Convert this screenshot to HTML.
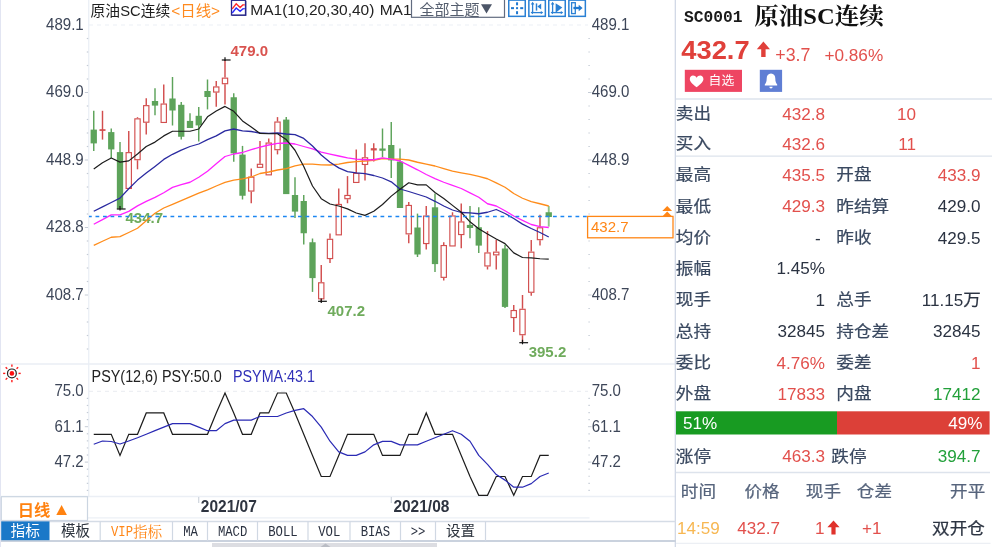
<!DOCTYPE html><html><head><meta charset="utf-8"><title>原油SC连续</title><style>html,body{margin:0;padding:0;background:#fff;overflow:hidden}svg{display:block}</style></head><body>
<svg width="992" height="547" viewBox="0 0 992 547">
<rect x="0" y="0" width="992" height="547" fill="#fff" stroke="none" stroke-width="1" />
<line x1="0.5" y1="0" x2="0.5" y2="547" stroke="#e2e5f2" stroke-width="1" />
<line x1="88.7" y1="0" x2="88.7" y2="497" stroke="#ecf0f6" stroke-width="1.4" />
<line x1="0" y1="364" x2="676" y2="364" stroke="#eaeef4" stroke-width="1.5" />
<line x1="0" y1="496.5" x2="676" y2="496.5" stroke="#ebeff5" stroke-width="1.3" />
<line x1="88" y1="517.9" x2="589.5" y2="517.9" stroke="#ecf0f6" stroke-width="1.2" />
<line x1="675.3" y1="0" x2="675.3" y2="547" stroke="#cdd5e4" stroke-width="1.2" />
<line x1="89" y1="25" x2="588" y2="25" stroke="#ebeff5" stroke-width="1" stroke-dasharray="4 4"/>
<line x1="89" y1="391.3" x2="588" y2="391.3" stroke="#e9ecf0" stroke-width="1" stroke-dasharray="4 4"/>
<line x1="86.8" y1="38.5" x2="88.2" y2="38.5" stroke="#c5ccd6" stroke-width="1.2" />
<line x1="588.4" y1="38.5" x2="589.8" y2="38.5" stroke="#c5ccd6" stroke-width="1.2" />
<line x1="86.8" y1="52.0" x2="88.2" y2="52.0" stroke="#c5ccd6" stroke-width="1.2" />
<line x1="588.4" y1="52.0" x2="589.8" y2="52.0" stroke="#c5ccd6" stroke-width="1.2" />
<line x1="86.8" y1="65.5" x2="88.2" y2="65.5" stroke="#c5ccd6" stroke-width="1.2" />
<line x1="588.4" y1="65.5" x2="589.8" y2="65.5" stroke="#c5ccd6" stroke-width="1.2" />
<line x1="86.8" y1="79.0" x2="88.2" y2="79.0" stroke="#c5ccd6" stroke-width="1.2" />
<line x1="588.4" y1="79.0" x2="589.8" y2="79.0" stroke="#c5ccd6" stroke-width="1.2" />
<line x1="84.8" y1="92.5" x2="88" y2="92.5" stroke="#c5ccd6" stroke-width="1" />
<line x1="588" y1="92.5" x2="591.5" y2="92.5" stroke="#c5ccd6" stroke-width="1" />
<line x1="86.8" y1="106.0" x2="88.2" y2="106.0" stroke="#c5ccd6" stroke-width="1.2" />
<line x1="588.4" y1="106.0" x2="589.8" y2="106.0" stroke="#c5ccd6" stroke-width="1.2" />
<line x1="86.8" y1="119.5" x2="88.2" y2="119.5" stroke="#c5ccd6" stroke-width="1.2" />
<line x1="588.4" y1="119.5" x2="589.8" y2="119.5" stroke="#c5ccd6" stroke-width="1.2" />
<line x1="86.8" y1="133.0" x2="88.2" y2="133.0" stroke="#c5ccd6" stroke-width="1.2" />
<line x1="588.4" y1="133.0" x2="589.8" y2="133.0" stroke="#c5ccd6" stroke-width="1.2" />
<line x1="86.8" y1="146.5" x2="88.2" y2="146.5" stroke="#c5ccd6" stroke-width="1.2" />
<line x1="588.4" y1="146.5" x2="589.8" y2="146.5" stroke="#c5ccd6" stroke-width="1.2" />
<line x1="84.8" y1="160.0" x2="88" y2="160.0" stroke="#c5ccd6" stroke-width="1" />
<line x1="588" y1="160.0" x2="591.5" y2="160.0" stroke="#c5ccd6" stroke-width="1" />
<line x1="86.8" y1="173.5" x2="88.2" y2="173.5" stroke="#c5ccd6" stroke-width="1.2" />
<line x1="588.4" y1="173.5" x2="589.8" y2="173.5" stroke="#c5ccd6" stroke-width="1.2" />
<line x1="86.8" y1="187.0" x2="88.2" y2="187.0" stroke="#c5ccd6" stroke-width="1.2" />
<line x1="588.4" y1="187.0" x2="589.8" y2="187.0" stroke="#c5ccd6" stroke-width="1.2" />
<line x1="86.8" y1="200.5" x2="88.2" y2="200.5" stroke="#c5ccd6" stroke-width="1.2" />
<line x1="588.4" y1="200.5" x2="589.8" y2="200.5" stroke="#c5ccd6" stroke-width="1.2" />
<line x1="86.8" y1="214.0" x2="88.2" y2="214.0" stroke="#c5ccd6" stroke-width="1.2" />
<line x1="588.4" y1="214.0" x2="589.8" y2="214.0" stroke="#c5ccd6" stroke-width="1.2" />
<line x1="84.8" y1="227.5" x2="88" y2="227.5" stroke="#c5ccd6" stroke-width="1" />
<line x1="588" y1="227.5" x2="591.5" y2="227.5" stroke="#c5ccd6" stroke-width="1" />
<line x1="86.8" y1="241.0" x2="88.2" y2="241.0" stroke="#c5ccd6" stroke-width="1.2" />
<line x1="588.4" y1="241.0" x2="589.8" y2="241.0" stroke="#c5ccd6" stroke-width="1.2" />
<line x1="86.8" y1="254.5" x2="88.2" y2="254.5" stroke="#c5ccd6" stroke-width="1.2" />
<line x1="588.4" y1="254.5" x2="589.8" y2="254.5" stroke="#c5ccd6" stroke-width="1.2" />
<line x1="86.8" y1="268.0" x2="88.2" y2="268.0" stroke="#c5ccd6" stroke-width="1.2" />
<line x1="588.4" y1="268.0" x2="589.8" y2="268.0" stroke="#c5ccd6" stroke-width="1.2" />
<line x1="86.8" y1="281.5" x2="88.2" y2="281.5" stroke="#c5ccd6" stroke-width="1.2" />
<line x1="588.4" y1="281.5" x2="589.8" y2="281.5" stroke="#c5ccd6" stroke-width="1.2" />
<line x1="84.8" y1="295.0" x2="88" y2="295.0" stroke="#c5ccd6" stroke-width="1" />
<line x1="588" y1="295.0" x2="591.5" y2="295.0" stroke="#c5ccd6" stroke-width="1" />
<line x1="86.8" y1="308.5" x2="88.2" y2="308.5" stroke="#c5ccd6" stroke-width="1.2" />
<line x1="588.4" y1="308.5" x2="589.8" y2="308.5" stroke="#c5ccd6" stroke-width="1.2" />
<line x1="86.8" y1="322.0" x2="88.2" y2="322.0" stroke="#c5ccd6" stroke-width="1.2" />
<line x1="588.4" y1="322.0" x2="589.8" y2="322.0" stroke="#c5ccd6" stroke-width="1.2" />
<line x1="86.8" y1="335.5" x2="88.2" y2="335.5" stroke="#c5ccd6" stroke-width="1.2" />
<line x1="588.4" y1="335.5" x2="589.8" y2="335.5" stroke="#c5ccd6" stroke-width="1.2" />
<line x1="86.8" y1="349.0" x2="88.2" y2="349.0" stroke="#c5ccd6" stroke-width="1.2" />
<line x1="588.4" y1="349.0" x2="589.8" y2="349.0" stroke="#c5ccd6" stroke-width="1.2" />
<line x1="86.8" y1="398.38" x2="88.2" y2="398.38" stroke="#c5ccd6" stroke-width="1.2" />
<line x1="588.4" y1="398.38" x2="589.8" y2="398.38" stroke="#c5ccd6" stroke-width="1.2" />
<line x1="86.8" y1="405.46" x2="88.2" y2="405.46" stroke="#c5ccd6" stroke-width="1.2" />
<line x1="588.4" y1="405.46" x2="589.8" y2="405.46" stroke="#c5ccd6" stroke-width="1.2" />
<line x1="86.8" y1="412.53999999999996" x2="88.2" y2="412.53999999999996" stroke="#c5ccd6" stroke-width="1.2" />
<line x1="588.4" y1="412.53999999999996" x2="589.8" y2="412.53999999999996" stroke="#c5ccd6" stroke-width="1.2" />
<line x1="86.8" y1="419.61999999999995" x2="88.2" y2="419.61999999999995" stroke="#c5ccd6" stroke-width="1.2" />
<line x1="588.4" y1="419.61999999999995" x2="589.8" y2="419.61999999999995" stroke="#c5ccd6" stroke-width="1.2" />
<line x1="84.8" y1="426.69999999999993" x2="88" y2="426.69999999999993" stroke="#c5ccd6" stroke-width="1" />
<line x1="588" y1="426.69999999999993" x2="591.5" y2="426.69999999999993" stroke="#c5ccd6" stroke-width="1" />
<line x1="86.8" y1="433.7799999999999" x2="88.2" y2="433.7799999999999" stroke="#c5ccd6" stroke-width="1.2" />
<line x1="588.4" y1="433.7799999999999" x2="589.8" y2="433.7799999999999" stroke="#c5ccd6" stroke-width="1.2" />
<line x1="86.8" y1="440.8599999999999" x2="88.2" y2="440.8599999999999" stroke="#c5ccd6" stroke-width="1.2" />
<line x1="588.4" y1="440.8599999999999" x2="589.8" y2="440.8599999999999" stroke="#c5ccd6" stroke-width="1.2" />
<line x1="86.8" y1="447.9399999999999" x2="88.2" y2="447.9399999999999" stroke="#c5ccd6" stroke-width="1.2" />
<line x1="588.4" y1="447.9399999999999" x2="589.8" y2="447.9399999999999" stroke="#c5ccd6" stroke-width="1.2" />
<line x1="86.8" y1="455.01999999999987" x2="88.2" y2="455.01999999999987" stroke="#c5ccd6" stroke-width="1.2" />
<line x1="588.4" y1="455.01999999999987" x2="589.8" y2="455.01999999999987" stroke="#c5ccd6" stroke-width="1.2" />
<line x1="84.8" y1="462.09999999999985" x2="88" y2="462.09999999999985" stroke="#c5ccd6" stroke-width="1" />
<line x1="588" y1="462.09999999999985" x2="591.5" y2="462.09999999999985" stroke="#c5ccd6" stroke-width="1" />
<line x1="86.8" y1="469.17999999999984" x2="88.2" y2="469.17999999999984" stroke="#c5ccd6" stroke-width="1.2" />
<line x1="588.4" y1="469.17999999999984" x2="589.8" y2="469.17999999999984" stroke="#c5ccd6" stroke-width="1.2" />
<line x1="86.8" y1="476.2599999999998" x2="88.2" y2="476.2599999999998" stroke="#c5ccd6" stroke-width="1.2" />
<line x1="588.4" y1="476.2599999999998" x2="589.8" y2="476.2599999999998" stroke="#c5ccd6" stroke-width="1.2" />
<line x1="86.8" y1="483.3399999999998" x2="88.2" y2="483.3399999999998" stroke="#c5ccd6" stroke-width="1.2" />
<line x1="588.4" y1="483.3399999999998" x2="589.8" y2="483.3399999999998" stroke="#c5ccd6" stroke-width="1.2" />
<line x1="86.8" y1="490.4199999999998" x2="88.2" y2="490.4199999999998" stroke="#c5ccd6" stroke-width="1.2" />
<line x1="588.4" y1="490.4199999999998" x2="589.8" y2="490.4199999999998" stroke="#c5ccd6" stroke-width="1.2" />
<text x="83.7" y="29.52" font-size="15.7" fill="#3d4658" font-weight="normal" text-anchor="end" font-family='"Liberation Sans","Noto Sans CJK SC",sans-serif'  textLength="37.7" lengthAdjust="spacingAndGlyphs">489.1</text>
<text x="591.7" y="29.52" font-size="15.7" fill="#3d4658" font-weight="normal" text-anchor="start" font-family='"Liberation Sans","Noto Sans CJK SC",sans-serif'  textLength="37.7" lengthAdjust="spacingAndGlyphs">489.1</text>
<text x="83.7" y="97.12" font-size="15.7" fill="#3d4658" font-weight="normal" text-anchor="end" font-family='"Liberation Sans","Noto Sans CJK SC",sans-serif'  textLength="37.7" lengthAdjust="spacingAndGlyphs">469.0</text>
<text x="591.7" y="97.12" font-size="15.7" fill="#3d4658" font-weight="normal" text-anchor="start" font-family='"Liberation Sans","Noto Sans CJK SC",sans-serif'  textLength="37.7" lengthAdjust="spacingAndGlyphs">469.0</text>
<text x="83.7" y="164.62" font-size="15.7" fill="#3d4658" font-weight="normal" text-anchor="end" font-family='"Liberation Sans","Noto Sans CJK SC",sans-serif'  textLength="37.7" lengthAdjust="spacingAndGlyphs">448.9</text>
<text x="591.7" y="164.62" font-size="15.7" fill="#3d4658" font-weight="normal" text-anchor="start" font-family='"Liberation Sans","Noto Sans CJK SC",sans-serif'  textLength="37.7" lengthAdjust="spacingAndGlyphs">448.9</text>
<text x="83.7" y="232.12" font-size="15.7" fill="#3d4658" font-weight="normal" text-anchor="end" font-family='"Liberation Sans","Noto Sans CJK SC",sans-serif'  textLength="37.7" lengthAdjust="spacingAndGlyphs">428.8</text>
<text x="83.7" y="299.62" font-size="15.7" fill="#3d4658" font-weight="normal" text-anchor="end" font-family='"Liberation Sans","Noto Sans CJK SC",sans-serif'  textLength="37.7" lengthAdjust="spacingAndGlyphs">408.7</text>
<text x="591.7" y="299.62" font-size="15.7" fill="#3d4658" font-weight="normal" text-anchor="start" font-family='"Liberation Sans","Noto Sans CJK SC",sans-serif'  textLength="37.7" lengthAdjust="spacingAndGlyphs">408.7</text>
<text x="83.7" y="396.32" font-size="15.7" fill="#3d4658" font-weight="normal" text-anchor="end" font-family='"Liberation Sans","Noto Sans CJK SC",sans-serif'  textLength="29.3" lengthAdjust="spacingAndGlyphs">75.0</text>
<text x="591.7" y="396.32" font-size="15.7" fill="#3d4658" font-weight="normal" text-anchor="start" font-family='"Liberation Sans","Noto Sans CJK SC",sans-serif'  textLength="29.3" lengthAdjust="spacingAndGlyphs">75.0</text>
<text x="83.7" y="431.92" font-size="15.7" fill="#3d4658" font-weight="normal" text-anchor="end" font-family='"Liberation Sans","Noto Sans CJK SC",sans-serif'  textLength="29.3" lengthAdjust="spacingAndGlyphs">61.1</text>
<text x="591.7" y="431.92" font-size="15.7" fill="#3d4658" font-weight="normal" text-anchor="start" font-family='"Liberation Sans","Noto Sans CJK SC",sans-serif'  textLength="29.3" lengthAdjust="spacingAndGlyphs">61.1</text>
<text x="83.7" y="467.32" font-size="15.7" fill="#3d4658" font-weight="normal" text-anchor="end" font-family='"Liberation Sans","Noto Sans CJK SC",sans-serif'  textLength="29.3" lengthAdjust="spacingAndGlyphs">47.2</text>
<text x="591.7" y="467.32" font-size="15.7" fill="#3d4658" font-weight="normal" text-anchor="start" font-family='"Liberation Sans","Noto Sans CJK SC",sans-serif'  textLength="29.3" lengthAdjust="spacingAndGlyphs">47.2</text>
<line x1="93.75" y1="110.8" x2="93.75" y2="150.9" stroke="#5da35a" stroke-width="1.45" />
<rect x="90.6" y="129.6" width="6.3" height="13.800000000000011" fill="#5da35a" stroke="none" stroke-width="1" />
<line x1="102.5" y1="110.8" x2="102.5" y2="139.6" stroke="#d24e4e" stroke-width="1.45" />
<rect x="99.5" y="129.2" width="6" height="1.6999999999999886" fill="#d24e4e" stroke="none" stroke-width="1" />
<line x1="111.25" y1="128.4" x2="111.25" y2="158" stroke="#5da35a" stroke-width="1.45" />
<rect x="108.1" y="132.1" width="6.3" height="17.30000000000001" fill="#5da35a" stroke="none" stroke-width="1" />
<line x1="120.0" y1="142.1" x2="120.0" y2="208.75" stroke="#5da35a" stroke-width="1.45" />
<rect x="116.85" y="152.1" width="6.3" height="56.650000000000006" fill="#5da35a" stroke="none" stroke-width="1" />
<line x1="128.75" y1="130.9" x2="128.75" y2="152.1" stroke="#d24e4e" stroke-width="1.45" />
<line x1="128.75" y1="189" x2="128.75" y2="189" stroke="#d24e4e" stroke-width="1.45" />
<rect x="126.1" y="152.65" width="5.3" height="35.800000000000004" fill="#fff" stroke="#d24e4e" stroke-width="1.15" />
<line x1="137.5" y1="117.2" x2="137.5" y2="118.3" stroke="#d24e4e" stroke-width="1.45" />
<line x1="137.5" y1="160.25" x2="137.5" y2="169.3" stroke="#d24e4e" stroke-width="1.45" />
<rect x="134.85" y="118.85" width="5.3" height="40.85" fill="#fff" stroke="#d24e4e" stroke-width="1.15" />
<line x1="146.25" y1="98.25" x2="146.25" y2="105.1" stroke="#d24e4e" stroke-width="1.45" />
<line x1="146.25" y1="122.75" x2="146.25" y2="134.6" stroke="#d24e4e" stroke-width="1.45" />
<rect x="143.6" y="105.64999999999999" width="5.3" height="16.550000000000004" fill="#fff" stroke="#d24e4e" stroke-width="1.15" />
<line x1="155.0" y1="88.25" x2="155.0" y2="115.3" stroke="#5da35a" stroke-width="1.45" />
<rect x="151.85" y="101" width="6.3" height="4.599999999999994" fill="#5da35a" stroke="none" stroke-width="1" />
<line x1="163.75" y1="84.5" x2="163.75" y2="103.5" stroke="#d24e4e" stroke-width="1.45" />
<line x1="163.75" y1="123" x2="163.75" y2="123" stroke="#d24e4e" stroke-width="1.45" />
<rect x="161.1" y="104.05" width="5.3" height="18.4" fill="#fff" stroke="#d24e4e" stroke-width="1.15" />
<line x1="172.5" y1="77" x2="172.5" y2="125.5" stroke="#5da35a" stroke-width="1.45" />
<rect x="169.35" y="98.5" width="6.3" height="12.0" fill="#5da35a" stroke="none" stroke-width="1" />
<line x1="181.25" y1="102" x2="181.25" y2="139.6" stroke="#5da35a" stroke-width="1.45" />
<rect x="178.1" y="104.8" width="6.3" height="31.950000000000003" fill="#5da35a" stroke="none" stroke-width="1" />
<line x1="190.0" y1="113.3" x2="190.0" y2="128" stroke="#5da35a" stroke-width="1.45" />
<rect x="186.85" y="120.9" width="6.3" height="7.099999999999994" fill="#5da35a" stroke="none" stroke-width="1" />
<line x1="198.75" y1="107" x2="198.75" y2="141.5" stroke="#5da35a" stroke-width="1.45" />
<rect x="195.6" y="115.8" width="6.3" height="9.600000000000009" fill="#5da35a" stroke="none" stroke-width="1" />
<line x1="207.5" y1="79.5" x2="207.5" y2="109.4" stroke="#5da35a" stroke-width="1.45" />
<rect x="204.35" y="91" width="6.3" height="6" fill="#5da35a" stroke="none" stroke-width="1" />
<line x1="216.25" y1="81" x2="216.25" y2="86.4" stroke="#d24e4e" stroke-width="1.45" />
<line x1="216.25" y1="92.6" x2="216.25" y2="106.75" stroke="#d24e4e" stroke-width="1.45" />
<rect x="213.6" y="86.95" width="5.3" height="5.099999999999989" fill="#fff" stroke="#d24e4e" stroke-width="1.15" />
<line x1="225.0" y1="60.1" x2="225.0" y2="77.6" stroke="#d24e4e" stroke-width="1.45" />
<line x1="225.0" y1="84.25" x2="225.0" y2="104.5" stroke="#d24e4e" stroke-width="1.45" />
<rect x="222.35" y="78.14999999999999" width="5.3" height="5.550000000000006" fill="#fff" stroke="#d24e4e" stroke-width="1.15" />
<line x1="233.75" y1="93.25" x2="233.75" y2="161.7" stroke="#5da35a" stroke-width="1.45" />
<rect x="230.6" y="97.25" width="6.3" height="56.150000000000006" fill="#5da35a" stroke="none" stroke-width="1" />
<line x1="242.5" y1="145.9" x2="242.5" y2="199.5" stroke="#5da35a" stroke-width="1.45" />
<rect x="239.35" y="154.6" width="6.3" height="41.150000000000006" fill="#5da35a" stroke="none" stroke-width="1" />
<line x1="251.25" y1="168.4" x2="251.25" y2="176.6" stroke="#d24e4e" stroke-width="1.45" />
<line x1="251.25" y1="191.6" x2="251.25" y2="203.25" stroke="#d24e4e" stroke-width="1.45" />
<rect x="248.6" y="177.15" width="5.3" height="13.9" fill="#fff" stroke="#d24e4e" stroke-width="1.15" />
<line x1="260.0" y1="140.9" x2="260.0" y2="163.75" stroke="#d24e4e" stroke-width="1.45" />
<line x1="260.0" y1="167.9" x2="260.0" y2="167.9" stroke="#d24e4e" stroke-width="1.45" />
<rect x="257.35" y="164.3" width="5.3" height="3.0500000000000056" fill="#fff" stroke="#d24e4e" stroke-width="1.15" />
<line x1="268.75" y1="138.4" x2="268.75" y2="142.5" stroke="#d24e4e" stroke-width="1.45" />
<line x1="268.75" y1="175.4" x2="268.75" y2="175.4" stroke="#d24e4e" stroke-width="1.45" />
<rect x="266.1" y="143.05" width="5.3" height="31.800000000000004" fill="#fff" stroke="#d24e4e" stroke-width="1.15" />
<line x1="277.5" y1="117.1" x2="277.5" y2="121.5" stroke="#d24e4e" stroke-width="1.45" />
<line x1="277.5" y1="150.25" x2="277.5" y2="154.4" stroke="#d24e4e" stroke-width="1.45" />
<rect x="274.85" y="122.05" width="5.3" height="27.65" fill="#fff" stroke="#d24e4e" stroke-width="1.15" />
<line x1="286.25" y1="117.1" x2="286.25" y2="194.1" stroke="#5da35a" stroke-width="1.45" />
<rect x="283.1" y="119.6" width="6.3" height="74.5" fill="#5da35a" stroke="none" stroke-width="1" />
<line x1="295.0" y1="177.25" x2="295.0" y2="217.9" stroke="#5da35a" stroke-width="1.45" />
<rect x="291.85" y="195" width="6.3" height="16.599999999999994" fill="#5da35a" stroke="none" stroke-width="1" />
<line x1="303.75" y1="195" x2="303.75" y2="244.5" stroke="#5da35a" stroke-width="1.45" />
<rect x="300.6" y="201" width="6.3" height="32.25" fill="#5da35a" stroke="none" stroke-width="1" />
<line x1="312.5" y1="238.5" x2="312.5" y2="291.9" stroke="#5da35a" stroke-width="1.45" />
<rect x="309.35" y="242.25" width="6.3" height="35.85000000000002" fill="#5da35a" stroke="none" stroke-width="1" />
<line x1="321.25" y1="265" x2="321.25" y2="282.25" stroke="#d24e4e" stroke-width="1.45" />
<line x1="321.25" y1="299.4" x2="321.25" y2="301.25" stroke="#d24e4e" stroke-width="1.45" />
<rect x="318.6" y="282.8" width="5.3" height="16.049999999999976" fill="#fff" stroke="#d24e4e" stroke-width="1.15" />
<line x1="330.0" y1="233.5" x2="330.0" y2="238.75" stroke="#d24e4e" stroke-width="1.45" />
<line x1="330.0" y1="259.1" x2="330.0" y2="263" stroke="#d24e4e" stroke-width="1.45" />
<rect x="327.35" y="239.3" width="5.3" height="19.25000000000002" fill="#fff" stroke="#d24e4e" stroke-width="1.15" />
<line x1="338.75" y1="188.6" x2="338.75" y2="203.9" stroke="#d24e4e" stroke-width="1.45" />
<line x1="338.75" y1="235.4" x2="338.75" y2="235.4" stroke="#d24e4e" stroke-width="1.45" />
<rect x="336.1" y="204.45000000000002" width="5.3" height="30.4" fill="#fff" stroke="#d24e4e" stroke-width="1.15" />
<line x1="347.5" y1="176.1" x2="347.5" y2="194.9" stroke="#d24e4e" stroke-width="1.45" />
<line x1="347.5" y1="199.25" x2="347.5" y2="203.25" stroke="#d24e4e" stroke-width="1.45" />
<rect x="344.85" y="195.45000000000002" width="5.3" height="3.2499999999999942" fill="#fff" stroke="#d24e4e" stroke-width="1.15" />
<line x1="356.25" y1="149.5" x2="356.25" y2="172.9" stroke="#d24e4e" stroke-width="1.45" />
<line x1="356.25" y1="183" x2="356.25" y2="183" stroke="#d24e4e" stroke-width="1.45" />
<rect x="353.6" y="173.45000000000002" width="5.3" height="8.999999999999995" fill="#fff" stroke="#d24e4e" stroke-width="1.15" />
<line x1="365.0" y1="143.25" x2="365.0" y2="157.25" stroke="#d24e4e" stroke-width="1.45" />
<line x1="365.0" y1="165" x2="365.0" y2="180.5" stroke="#d24e4e" stroke-width="1.45" />
<rect x="362.35" y="157.8" width="5.3" height="6.65" fill="#fff" stroke="#d24e4e" stroke-width="1.15" />
<line x1="373.75" y1="143.25" x2="373.75" y2="161.6" stroke="#d24e4e" stroke-width="1.45" />
<rect x="370.75" y="148.2" width="6" height="2.25" fill="#d24e4e" stroke="none" stroke-width="1" />
<line x1="382.5" y1="128.5" x2="382.5" y2="157" stroke="#5da35a" stroke-width="1.45" />
<rect x="379.35" y="148.5" width="6.3" height="2.25" fill="#5da35a" stroke="none" stroke-width="1" />
<line x1="391.25" y1="122" x2="391.25" y2="178" stroke="#5da35a" stroke-width="1.45" />
<rect x="388.1" y="145" width="6.3" height="15.400000000000006" fill="#5da35a" stroke="none" stroke-width="1" />
<line x1="400.0" y1="148.5" x2="400.0" y2="208" stroke="#5da35a" stroke-width="1.45" />
<rect x="396.85" y="161.6" width="6.3" height="46.400000000000006" fill="#5da35a" stroke="none" stroke-width="1" />
<line x1="408.75" y1="202" x2="408.75" y2="204.9" stroke="#d24e4e" stroke-width="1.45" />
<line x1="408.75" y1="234.4" x2="408.75" y2="243.25" stroke="#d24e4e" stroke-width="1.45" />
<rect x="406.1" y="205.45000000000002" width="5.3" height="28.4" fill="#fff" stroke="#d24e4e" stroke-width="1.15" />
<line x1="417.5" y1="213.6" x2="417.5" y2="257" stroke="#5da35a" stroke-width="1.45" />
<rect x="414.35" y="227.5" width="6.3" height="27.0" fill="#5da35a" stroke="none" stroke-width="1" />
<line x1="426.25" y1="206.1" x2="426.25" y2="215.5" stroke="#d24e4e" stroke-width="1.45" />
<line x1="426.25" y1="244.1" x2="426.25" y2="249.5" stroke="#d24e4e" stroke-width="1.45" />
<rect x="423.6" y="216.05" width="5.3" height="27.499999999999993" fill="#fff" stroke="#d24e4e" stroke-width="1.15" />
<line x1="435.0" y1="193.6" x2="435.0" y2="272" stroke="#5da35a" stroke-width="1.45" />
<rect x="431.85" y="207.3" width="6.3" height="56.80000000000001" fill="#5da35a" stroke="none" stroke-width="1" />
<line x1="443.75" y1="242.25" x2="443.75" y2="245" stroke="#d24e4e" stroke-width="1.45" />
<line x1="443.75" y1="277.9" x2="443.75" y2="280.5" stroke="#d24e4e" stroke-width="1.45" />
<rect x="441.1" y="245.55" width="5.3" height="31.799999999999976" fill="#fff" stroke="#d24e4e" stroke-width="1.15" />
<line x1="452.5" y1="212.25" x2="452.5" y2="215.4" stroke="#d24e4e" stroke-width="1.45" />
<line x1="452.5" y1="246.5" x2="452.5" y2="246.5" stroke="#d24e4e" stroke-width="1.45" />
<rect x="449.85" y="215.95000000000002" width="5.3" height="29.999999999999993" fill="#fff" stroke="#d24e4e" stroke-width="1.15" />
<line x1="461.25" y1="203.5" x2="461.25" y2="221.4" stroke="#d24e4e" stroke-width="1.45" />
<line x1="461.25" y1="235.1" x2="461.25" y2="248.25" stroke="#d24e4e" stroke-width="1.45" />
<rect x="458.6" y="221.95000000000002" width="5.3" height="12.599999999999989" fill="#fff" stroke="#d24e4e" stroke-width="1.15" />
<line x1="470.0" y1="206" x2="470.0" y2="238.2" stroke="#5da35a" stroke-width="1.45" />
<rect x="466.85" y="224.9" width="6.3" height="3.0999999999999943" fill="#5da35a" stroke="none" stroke-width="1" />
<line x1="478.75" y1="207.25" x2="478.75" y2="253.1" stroke="#5da35a" stroke-width="1.45" />
<rect x="475.6" y="227.25" width="6.3" height="18.349999999999994" fill="#5da35a" stroke="none" stroke-width="1" />
<line x1="487.5" y1="231.1" x2="487.5" y2="252.4" stroke="#d24e4e" stroke-width="1.45" />
<line x1="487.5" y1="266.5" x2="487.5" y2="269.5" stroke="#d24e4e" stroke-width="1.45" />
<rect x="484.85" y="252.95000000000002" width="5.3" height="12.999999999999995" fill="#fff" stroke="#d24e4e" stroke-width="1.15" />
<line x1="496.25" y1="239.75" x2="496.25" y2="251.6" stroke="#d24e4e" stroke-width="1.45" />
<line x1="496.25" y1="255.4" x2="496.25" y2="269.5" stroke="#d24e4e" stroke-width="1.45" />
<rect x="493.6" y="252.15" width="5.3" height="2.7000000000000113" fill="#fff" stroke="#d24e4e" stroke-width="1.15" />
<line x1="505.0" y1="244.75" x2="505.0" y2="308.1" stroke="#5da35a" stroke-width="1.45" />
<rect x="501.85" y="248.5" width="6.3" height="58.39999999999998" fill="#5da35a" stroke="none" stroke-width="1" />
<line x1="513.75" y1="305" x2="513.75" y2="310" stroke="#d24e4e" stroke-width="1.45" />
<line x1="513.75" y1="318.1" x2="513.75" y2="331.9" stroke="#d24e4e" stroke-width="1.45" />
<rect x="511.1" y="310.55" width="5.3" height="7.000000000000023" fill="#fff" stroke="#d24e4e" stroke-width="1.15" />
<line x1="522.5" y1="295" x2="522.5" y2="308.75" stroke="#d24e4e" stroke-width="1.45" />
<line x1="522.5" y1="335.25" x2="522.5" y2="342" stroke="#d24e4e" stroke-width="1.45" />
<rect x="519.85" y="309.3" width="5.3" height="25.4" fill="#fff" stroke="#d24e4e" stroke-width="1.15" />
<line x1="531.25" y1="240" x2="531.25" y2="251.6" stroke="#d24e4e" stroke-width="1.45" />
<line x1="531.25" y1="292.8" x2="531.25" y2="295.7" stroke="#d24e4e" stroke-width="1.45" />
<rect x="528.6" y="252.15" width="5.3" height="40.100000000000016" fill="#fff" stroke="#d24e4e" stroke-width="1.15" />
<line x1="540.0" y1="214.75" x2="540.0" y2="227.25" stroke="#d24e4e" stroke-width="1.45" />
<line x1="540.0" y1="240.2" x2="540.0" y2="245.4" stroke="#d24e4e" stroke-width="1.45" />
<rect x="537.35" y="227.8" width="5.3" height="11.849999999999989" fill="#fff" stroke="#d24e4e" stroke-width="1.15" />
<line x1="548.75" y1="206" x2="548.75" y2="226.6" stroke="#8fc48a" stroke-width="1.9" />
<rect x="545.6" y="212.25" width="6.3" height="4.75" fill="#5da35a" stroke="none" stroke-width="1" />
<text x="230.5" y="56.37" font-size="15" fill="#d9534f" font-weight="bold" text-anchor="start" font-family='"Liberation Sans","Noto Sans CJK SC",sans-serif' >479.0</text>
<text x="125.5" y="223.37" font-size="15" fill="#6fab5c" font-weight="bold" text-anchor="start" font-family='"Liberation Sans","Noto Sans CJK SC",sans-serif' >434.7</text>
<text x="327.5" y="315.87" font-size="15" fill="#6fab5c" font-weight="bold" text-anchor="start" font-family='"Liberation Sans","Noto Sans CJK SC",sans-serif' >407.2</text>
<text x="528.7" y="357.37" font-size="15" fill="#6fab5c" font-weight="bold" text-anchor="start" font-family='"Liberation Sans","Noto Sans CJK SC",sans-serif' >395.2</text>
<polyline points="93.75,245.40 102.50,241.25 111.25,237.25 120.00,236.60 128.75,232.50 137.50,228.25 146.25,220.70 155.00,213.30 163.75,208.00 172.50,204.30 181.25,200.60 190.00,196.80 198.75,193.20 207.50,189.80 216.25,186.00 225.00,182.40 233.75,180.10 242.50,178.90 251.25,177.00 260.00,173.50 268.75,172.00 277.50,170.00 286.25,168.60 295.00,165.80 303.75,164.20 312.50,164.20 321.25,164.90 330.00,165.00 338.75,164.10 347.50,162.50 356.25,161.60 365.00,161.00 373.75,160.40 382.50,158.50 391.25,159.10 400.00,159.10 408.75,160.00 417.50,162.25 426.25,164.10 435.00,166.00 443.75,168.60 452.50,171.10 461.25,172.80 470.00,174.40 478.75,176.40 487.50,178.75 496.25,182.90 505.00,187.25 513.75,193.50 522.50,198.25 531.25,201.60 540.00,203.75 548.75,206.00" fill="none" stroke="#ff8c1a" stroke-width="1.3" stroke-linejoin="round"/>
<polyline points="93.75,224.30 102.50,219.60 111.25,214.90 120.00,214.90 128.75,211.40 137.50,205.90 146.25,201.40 155.00,197.40 163.75,192.70 172.50,187.40 181.25,184.60 190.00,182.25 198.75,177.30 207.50,171.20 216.25,163.70 225.00,156.50 233.75,154.00 242.50,152.50 251.25,149.60 260.00,147.10 268.75,145.00 277.50,143.40 286.25,143.00 295.00,144.00 303.75,146.50 312.50,148.80 321.25,152.20 330.00,154.10 338.75,156.00 347.50,157.90 356.25,159.10 365.00,159.75 373.75,159.75 382.50,157.90 391.25,159.10 400.00,161.00 408.75,165.40 417.50,169.80 426.25,174.50 435.00,178.60 443.75,182.25 452.50,185.40 461.25,188.50 470.00,192.90 478.75,197.25 487.50,203.75 496.25,206.00 505.00,210.75 513.75,216.00 522.50,220.40 531.25,224.50 540.00,226.60 548.75,227.50" fill="none" stroke="#ff22ff" stroke-width="1.3" stroke-linejoin="round"/>
<polyline points="93.75,211.25 102.50,206.90 111.25,202.50 120.00,198.10 128.75,188.70 137.50,180.10 146.25,173.10 155.00,166.40 163.75,159.40 172.50,154.30 181.25,150.10 190.00,146.50 198.75,144.00 207.50,139.70 216.25,135.90 225.00,130.90 233.75,129.00 242.50,130.90 251.25,131.50 260.00,133.00 268.75,133.40 277.50,133.00 286.25,134.00 295.00,134.60 303.75,138.40 312.50,146.00 321.25,155.00 330.00,162.25 338.75,167.90 347.50,171.70 356.25,172.90 365.00,173.70 373.75,175.50 382.50,178.00 391.25,181.80 400.00,189.00 408.75,191.50 417.50,194.25 426.25,197.00 435.00,201.30 443.75,206.00 452.50,210.00 461.25,212.50 470.00,212.90 478.75,213.75 487.50,212.25 496.25,209.50 505.00,213.50 513.75,218.50 522.50,224.10 531.25,228.50 540.00,232.50 548.75,237.00" fill="none" stroke="#2a2aa0" stroke-width="1.3" stroke-linejoin="round"/>
<polyline points="93.75,169.00 102.50,162.75 111.25,158.00 120.00,162.10 128.75,160.90 137.50,154.00 146.25,146.50 155.00,142.10 163.75,135.90 172.50,131.25 181.25,131.25 190.00,131.25 198.75,129.00 207.50,116.80 216.25,111.00 225.00,106.40 233.75,111.30 242.50,120.90 251.25,127.10 260.00,133.40 268.75,133.75 277.50,133.75 286.25,139.60 295.00,150.25 303.75,166.50 312.50,186.00 321.25,198.70 330.00,204.00 338.75,206.00 347.50,208.90 356.25,213.00 365.00,215.40 373.75,211.30 382.50,204.50 391.25,196.10 400.00,189.25 408.75,182.75 417.50,184.90 426.25,184.90 435.00,192.50 443.75,198.50 452.50,205.40 461.25,212.25 470.00,221.80 478.75,228.80 487.50,234.00 496.25,239.00 505.00,243.60 513.75,252.90 522.50,257.50 531.25,257.90 540.00,258.75 548.75,259.10" fill="none" stroke="#1c1c1c" stroke-width="1.2" stroke-linejoin="round"/>
<line x1="89" y1="216.5" x2="587" y2="216.5" stroke="#1c86f2" stroke-width="1.4" stroke-dasharray="3.75 3.75" stroke-dashoffset="1"/>
<line x1="221.8" y1="60" x2="230.6" y2="60" stroke="#111" stroke-width="1.2" />
<line x1="225.0" y1="57.2" x2="225.0" y2="61" stroke="#111" stroke-width="1.2" />
<line x1="116.8" y1="209" x2="125.6" y2="209" stroke="#111" stroke-width="1.2" />
<line x1="120.0" y1="206.1" x2="120.0" y2="210.6" stroke="#111" stroke-width="1.2" />
<line x1="318.05" y1="301.3" x2="326.85" y2="301.3" stroke="#111" stroke-width="1.2" />
<line x1="321.25" y1="298.40000000000003" x2="321.25" y2="302.90000000000003" stroke="#111" stroke-width="1.2" />
<line x1="519.3" y1="342.7" x2="528.1" y2="342.7" stroke="#111" stroke-width="1.2" />
<line x1="522.5" y1="339.8" x2="522.5" y2="344.3" stroke="#111" stroke-width="1.2" />
<rect x="587.6" y="216.4" width="85.4" height="21.4" fill="#fff" stroke="#ff8616" stroke-width="1.3" />
<text x="591" y="231.97" font-size="15" fill="#ff8616" font-weight="normal" text-anchor="start" font-family='"Liberation Sans","Noto Sans CJK SC",sans-serif' >432.7</text>
<path d="M662.3 211 L667.2 206 L672.1 211 Z M662.3 216.6 L667.2 211.4 L672.1 216.6 Z" fill="#ff8616"/>
<polyline points="93.75,434.28 102.50,434.28 111.25,434.28 120.00,455.40 128.75,434.28 137.50,434.28 146.25,412.92 155.00,412.92 163.75,412.92 172.50,434.28 181.25,434.28 190.00,434.28 198.75,434.28 207.50,434.28 216.25,412.92 225.00,393.00 233.75,412.92 242.50,434.28 251.25,434.28 260.00,412.92 268.75,412.92 277.50,393.00 286.25,393.00 295.00,412.92 303.75,434.28 312.50,455.40 321.25,476.52 330.00,476.52 338.75,455.40 347.50,434.28 356.25,434.28 365.00,434.28 373.75,434.28 382.50,455.40 391.25,455.40 400.00,455.40 408.75,434.28 417.50,434.28 426.25,412.92 435.00,434.28 443.75,434.28 452.50,434.28 461.25,455.40 470.00,476.52 478.75,495.30 487.50,495.30 496.25,476.52 505.00,476.52 513.75,495.30 522.50,476.52 531.25,476.52 540.00,455.40 548.75,455.40" fill="none" stroke="#1c1c1c" stroke-width="1.2"/>
<polyline points="93.75,444.25 102.50,441.00 111.25,441.50 120.00,444.00 128.75,441.00 137.50,437.80 146.25,434.24 155.00,430.68 163.75,427.12 172.50,423.60 181.25,423.60 190.00,423.60 198.75,427.16 207.50,430.72 216.25,430.72 225.00,423.64 233.75,420.08 242.50,420.08 251.25,420.08 260.00,416.52 268.75,416.52 277.50,416.52 286.25,413.00 295.00,410.40 303.75,408.70 312.50,416.52 321.25,427.12 330.00,441.24 338.75,451.84 347.50,455.40 356.25,455.40 365.00,451.88 373.75,444.84 382.50,441.32 391.25,441.32 400.00,444.84 408.75,444.84 417.50,444.84 426.25,441.28 435.00,437.76 443.75,434.24 452.50,430.72 461.25,434.24 470.00,441.28 478.75,455.44 487.50,464.40 496.25,474.60 505.00,480.12 513.75,487.20 522.50,487.20 531.25,483.64 540.00,476.56 548.75,473.04" fill="none" stroke="#2a2ab4" stroke-width="1.2" stroke-linejoin="round"/>
<text x="91.6" y="382.48" font-size="15.6" fill="#222" font-weight="normal" text-anchor="start" font-family='"Liberation Sans","Noto Sans CJK SC",sans-serif'  textLength="130.2" lengthAdjust="spacingAndGlyphs">PSY(12,6) PSY:50.0</text>
<text x="233" y="382.48" font-size="15.6" fill="#3030b8" font-weight="normal" text-anchor="start" font-family='"Liberation Sans","Noto Sans CJK SC",sans-serif'  textLength="82" lengthAdjust="spacingAndGlyphs">PSYMA:43.1</text>
<g stroke="#ff1a1a" stroke-width="1.4">
<line x1="18.50" y1="373.40" x2="20.70" y2="373.40"/>
<line x1="16.57" y1="378.07" x2="18.12" y2="379.62"/>
<line x1="11.90" y1="380.00" x2="11.90" y2="382.20"/>
<line x1="7.23" y1="378.07" x2="5.68" y2="379.62"/>
<line x1="5.30" y1="373.40" x2="3.10" y2="373.40"/>
<line x1="7.23" y1="368.73" x2="5.68" y2="367.18"/>
<line x1="11.90" y1="366.80" x2="11.90" y2="364.60"/>
<line x1="16.57" y1="368.73" x2="18.12" y2="367.18"/>
</g>
<circle cx="11.9" cy="373.4" r="4.4" fill="#fff" stroke="#222" stroke-width="1.2"/><circle cx="11.9" cy="373.4" r="2.3" fill="#ff1010"/>
<text x="90.6" y="15.68" font-size="14.8" fill="#1e1e1e" font-weight="normal" text-anchor="start" font-family='"Liberation Sans","Noto Sans CJK SC",sans-serif'  textLength="79.6" lengthAdjust="spacingAndGlyphs">原油SC连续</text>
<text x="171.3" y="15.68" font-size="14.8" fill="#ff8a1e" font-weight="normal" text-anchor="start" font-family='"Liberation Sans","Noto Sans CJK SC",sans-serif'  textLength="48.8" lengthAdjust="spacingAndGlyphs">&lt;日线&gt;</text>
<rect x="231.5" y="0.3" width="14" height="14.8" fill="#fff" stroke="#28288a" stroke-width="1.3" />
<line x1="245.9" y1="1" x2="245.9" y2="15.6" stroke="#28288a" stroke-width="0.9" />
<line x1="232" y1="15.4" x2="246.2" y2="15.4" stroke="#28288a" stroke-width="0.9" />
<polyline points="232.2,8.9 236.2,3.8 240.1,7.6 242.8,4.9 244.8,4.9" fill="none" stroke="#ff2626" stroke-width="1.35"/>
<polyline points="232.2,13 236.2,8 240.1,11.3 242.8,8.9 244.8,8.7" fill="none" stroke="#2a2aff" stroke-width="1.35"/>
<text x="250.3" y="15.25" font-size="15.5" fill="#222" font-weight="normal" text-anchor="start" font-family='"Liberation Sans","Noto Sans CJK SC",sans-serif' >MA1(10,20,30,40)</text>
<text x="379.7" y="15.25" font-size="15.5" fill="#222" font-weight="normal" text-anchor="start" font-family='"Liberation Sans","Noto Sans CJK SC",sans-serif' >MA1</text>
<rect x="411.5" y="-2" width="93" height="19.3" fill="#fff" stroke="#626c80" stroke-width="1.2" />
<text x="419.6" y="14.55" font-size="15" fill="#555e6e" font-weight="normal" text-anchor="start" font-family='"Liberation Sans","Noto Sans CJK SC",sans-serif' >全部主题</text>
<path d="M481 4.2 L492 4.2 L486.5 13.6 Z" fill="#4d5668"/>
<rect x="508.75" y="0.1" width="16.5" height="16.25" fill="#fff" stroke="#2a80d4" stroke-width="1.5" />
<rect x="528.85" y="0.1" width="16.5" height="16.25" fill="#fff" stroke="#2a80d4" stroke-width="1.5" />
<rect x="548.75" y="0.1" width="16.5" height="16.25" fill="#fff" stroke="#2a80d4" stroke-width="1.5" />
<rect x="568.85" y="0.1" width="16.5" height="16.25" fill="#fff" stroke="#2a80d4" stroke-width="1.5" />
<rect x="516.05" y="2.3" width="2" height="3" fill="#1f78d0" stroke="none" stroke-width="1" />
<rect x="516.05" y="7.15" width="2" height="2" fill="#1f78d0" stroke="none" stroke-width="1" />
<rect x="516.05" y="11.2" width="2" height="3" fill="#1f78d0" stroke="none" stroke-width="1" />
<rect x="511" y="7.15" width="3" height="2" fill="#1f78d0" stroke="none" stroke-width="1" />
<rect x="520.2" y="7.15" width="3" height="2" fill="#1f78d0" stroke="none" stroke-width="1" />
<g stroke="#2a80d4" stroke-width="1.3" fill="#2a80d4"><line x1="532.6" y1="3" x2="532.6" y2="12.6"/><line x1="531.6" y1="12.6" x2="542.2" y2="12.6"/><path d="M532.6 1.8 L530.8 4.6 L534.4 4.6Z M530.6 12.6 L533 10.9 L533 14.3Z M543.2 12.6 L540.8 10.9 L540.8 14.3Z" stroke="none"/></g>
<g stroke="#2a80d4" stroke-width="1.3" fill="#2a80d4"><line x1="552.6" y1="3" x2="552.6" y2="12.6"/><line x1="551.6" y1="12.6" x2="562.2" y2="12.6"/><path d="M552.6 1.8 L550.8 4.6 L554.4 4.6Z M550.6 12.6 L553 10.9 L553 14.3Z M563.2 12.6 L560.8 10.9 L560.8 14.3Z" stroke="none"/></g>
<line x1="536.5" y1="3.4" x2="536.5" y2="10.6" stroke="#2a80d4" stroke-width="1.5"/><path d="M537.4 6.5 L541.2 3.6 L541.2 9.4Z" fill="#2a80d4"/>
<path d="M555.6 3.2 L562.3 7.6 L556.6 11.9 L555.6 11.9Z" fill="#2a80d4"/>
<rect x="571.6" y="2.7" width="3.7" height="10.9" fill="none" stroke="#2a80d4" stroke-width="1.3"/><line x1="573.4" y1="8" x2="579.6" y2="8" stroke="#1f78d0" stroke-width="2.3"/><path d="M578.7 4.7 L582.6 8 L578.7 11.3Z" fill="#1f78d0"/>
<line x1="198.75" y1="497" x2="198.75" y2="503" stroke="#c5ccd6" stroke-width="1" />
<line x1="391.25" y1="497" x2="391.25" y2="503" stroke="#c5ccd6" stroke-width="1" />
<text x="200.8" y="512.08" font-size="15.6" fill="#2e3440" font-weight="bold" text-anchor="start" font-family='"Liberation Sans","Noto Sans CJK SC",sans-serif'  textLength="56" lengthAdjust="spacingAndGlyphs">2021/07</text>
<text x="393.4" y="512.08" font-size="15.6" fill="#2e3440" font-weight="bold" text-anchor="start" font-family='"Liberation Sans","Noto Sans CJK SC",sans-serif'  textLength="56" lengthAdjust="spacingAndGlyphs">2021/08</text>
<rect x="1.3" y="496.7" width="86.2" height="23.8" fill="#fff" stroke="#cbd5e1" stroke-width="1.2" />
<text x="17.8" y="515.77" font-size="15.6" fill="#ff8210" font-weight="bold" text-anchor="start" font-family='"Liberation Sans","Noto Sans CJK SC",sans-serif'  textLength="32.6" lengthAdjust="spacingAndGlyphs">日线</text>
<path d="M56.3 515 L61.6 505 L66.9 515 Z" fill="#ff8210"/>
<line x1="1" y1="521.5" x2="676" y2="521.5" stroke="#d5dce6" stroke-width="1.3" />
<line x1="1" y1="541" x2="676" y2="541" stroke="#cad2de" stroke-width="1.9" />
<rect x="1.2" y="521.4" width="48.3" height="18.8" fill="#1a78c8" stroke="none" stroke-width="1" />
<line x1="100.2" y1="521.5" x2="100.2" y2="541" stroke="#d0d8e3" stroke-width="1.2" />
<line x1="172.5" y1="521.5" x2="172.5" y2="541" stroke="#d0d8e3" stroke-width="1.2" />
<line x1="207.5" y1="521.5" x2="207.5" y2="541" stroke="#d0d8e3" stroke-width="1.2" />
<line x1="257.5" y1="521.5" x2="257.5" y2="541" stroke="#d0d8e3" stroke-width="1.2" />
<line x1="308" y1="521.5" x2="308" y2="541" stroke="#d0d8e3" stroke-width="1.2" />
<line x1="350" y1="521.5" x2="350" y2="541" stroke="#d0d8e3" stroke-width="1.2" />
<line x1="400.5" y1="521.5" x2="400.5" y2="541" stroke="#d0d8e3" stroke-width="1.2" />
<line x1="435.5" y1="521.5" x2="435.5" y2="541" stroke="#d0d8e3" stroke-width="1.2" />
<line x1="485.5" y1="521.5" x2="485.5" y2="541" stroke="#d0d8e3" stroke-width="1.2" />
<text x="25.3" y="536.44" font-size="14.7" fill="#fff" font-weight="normal" text-anchor="middle" font-family='"Liberation Sans","Noto Sans CJK SC",sans-serif' >指标</text>
<text x="75.6" y="536.37" font-size="14.5" fill="#2c333d" font-weight="normal" text-anchor="middle" font-family='"Liberation Sans","Noto Sans CJK SC",sans-serif' >模板</text>
<text x="111" y="536.08" font-size="14.8" fill="#ff8616" font-weight="normal" text-anchor="start" font-family='"Liberation Mono","Noto Serif CJK SC",monospace'  textLength="22" lengthAdjust="spacingAndGlyphs">VIP</text>
<text x="133" y="536.66" font-size="14.6" fill="#ff8616" font-weight="normal" text-anchor="start" font-family='"Liberation Mono","Noto Serif CJK SC",monospace'  textLength="29.2" lengthAdjust="spacingAndGlyphs">指标</text>
<text x="183.23999999999998" y="536.08" font-size="14.8" fill="#2a3140" font-weight="normal" text-anchor="start" font-family='"Liberation Mono","Noto Serif CJK SC",monospace'  textLength="14.7" lengthAdjust="spacingAndGlyphs">MA</text>
<text x="217.88" y="536.08" font-size="14.8" fill="#2a3140" font-weight="normal" text-anchor="start" font-family='"Liberation Mono","Noto Serif CJK SC",monospace'  textLength="29.4" lengthAdjust="spacingAndGlyphs">MACD</text>
<text x="268.28" y="536.08" font-size="14.8" fill="#2a3140" font-weight="normal" text-anchor="start" font-family='"Liberation Mono","Noto Serif CJK SC",monospace'  textLength="29.4" lengthAdjust="spacingAndGlyphs">BOLL</text>
<text x="318.15999999999997" y="536.08" font-size="14.8" fill="#2a3140" font-weight="normal" text-anchor="start" font-family='"Liberation Mono","Noto Serif CJK SC",monospace'  textLength="22.1" lengthAdjust="spacingAndGlyphs">VOL</text>
<text x="360.67999999999995" y="536.08" font-size="14.8" fill="#2a3140" font-weight="normal" text-anchor="start" font-family='"Liberation Mono","Noto Serif CJK SC",monospace'  textLength="29.4" lengthAdjust="spacingAndGlyphs">BIAS</text>
<text x="410.64" y="536.08" font-size="14.8" fill="#2a3140" font-weight="normal" text-anchor="start" font-family='"Liberation Mono","Noto Serif CJK SC",monospace'  textLength="14.7" lengthAdjust="spacingAndGlyphs">&gt;&gt;</text>
<text x="460.5" y="536.37" font-size="14.5" fill="#2c333d" font-weight="normal" text-anchor="middle" font-family='"Liberation Sans","Noto Sans CJK SC",sans-serif' >设置</text>
<rect x="212" y="543" width="225" height="4" fill="#dcdde2" stroke="none" stroke-width="1" />
<path d="M320.5 547 L325.5 543.6 L330.5 547Z" fill="#b9bcc4"/>
<text x="684" y="21.68" font-size="16.3" fill="#1a1a1a" font-weight="bold" text-anchor="start" font-family='"Liberation Mono","Noto Serif CJK SC",monospace' >SC0001</text>
<text x="754.3" y="24.03" font-size="22.3" fill="#111" font-weight="bold" text-anchor="start" font-family='"Liberation Serif","Noto Serif CJK SC",serif'  textLength="129.4" lengthAdjust="spacingAndGlyphs">原油SC连续</text>
<text x="681.3" y="59.15" font-size="26.4" fill="#e0403a" font-weight="bold" text-anchor="start" font-family='"Liberation Sans","Noto Sans CJK SC",sans-serif'  textLength="68.3" lengthAdjust="spacingAndGlyphs">432.7</text>
<path d="M763.4 41.6 L770 49.2 L765.6 49.2 L765.6 57 L761.2 57 L761.2 49.2 L756.8 49.2 Z" fill="#e0403a"/>
<text x="775.3" y="61.37" font-size="17.8" fill="#e2504c" font-weight="normal" text-anchor="start" font-family='"Liberation Sans","Noto Sans CJK SC",sans-serif' >+3.7</text>
<text x="824.4" y="61.16" font-size="17.2" fill="#e2504c" font-weight="normal" text-anchor="start" font-family='"Liberation Sans","Noto Sans CJK SC",sans-serif' >+0.86%</text>
<rect x="684.8" y="69.8" width="57.2" height="22.1" fill="#ee4562" stroke="none" stroke-width="1" />
<path d="M696.6 87.2 C692 83.6 689.8 81.4 689.8 78.9 C689.8 76.9 691.3 75.6 693 75.6 C694.5 75.6 695.8 76.4 696.6 77.7 C697.4 76.4 698.7 75.6 700.2 75.6 C701.9 75.6 703.4 76.9 703.4 78.9 C703.4 81.4 701.2 83.6 696.6 87.2 Z" fill="#fff"/>
<text x="708.6" y="85.31" font-size="12.2" fill="#fff" font-weight="normal" text-anchor="start" font-family='"Liberation Sans","Noto Sans CJK SC",sans-serif'  textLength="25.6" lengthAdjust="spacingAndGlyphs">自选</text>
<rect x="759.8" y="69.8" width="22.3" height="22.1" fill="#5f7ed4" stroke="none" stroke-width="1" />
<path d="M771 73.6 C773.9 73.6 775.3 75.8 775.3 78.6 C775.3 82 776.2 83.4 777.2 84.6 L777.2 85.6 L764.8 85.6 L764.8 84.6 C765.8 83.4 766.7 82 766.7 78.6 C766.7 75.8 768.1 73.6 771 73.6 Z M769.4 86.8 L772.6 86.8 C772.6 87.8 771.9 88.4 771 88.4 C770.1 88.4 769.4 87.8 769.4 86.8Z" fill="#fff"/>
<line x1="676" y1="99" x2="992" y2="99" stroke="#dde3ec" stroke-width="1.5" />
<line x1="676" y1="156.2" x2="992" y2="156.2" stroke="#dde3ec" stroke-width="1.3" />
<line x1="676" y1="472.5" x2="990" y2="472.5" stroke="#dde3ec" stroke-width="1.5" />
<text x="675.8000000000001" y="118.95" font-size="15.8" fill="#3a4960" font-weight="400" text-anchor="start" font-family='"Liberation Sans","Noto Sans CJK SC",sans-serif' stroke="#3a4960" stroke-width="0.22" textLength="35.2" lengthAdjust="spacingAndGlyphs">卖出</text>
<text x="825" y="119.52" font-size="17.1" fill="#e2504c" font-weight="normal" text-anchor="end" font-family='"Liberation Sans","Noto Sans CJK SC",sans-serif' >432.8</text>
<text x="916" y="119.52" font-size="17.1" fill="#e2504c" font-weight="normal" text-anchor="end" font-family='"Liberation Sans","Noto Sans CJK SC",sans-serif' >10</text>
<text x="675.8000000000001" y="148.95" font-size="15.8" fill="#3a4960" font-weight="400" text-anchor="start" font-family='"Liberation Sans","Noto Sans CJK SC",sans-serif' stroke="#3a4960" stroke-width="0.22" textLength="35.2" lengthAdjust="spacingAndGlyphs">买入</text>
<text x="825" y="149.52" font-size="17.1" fill="#e2504c" font-weight="normal" text-anchor="end" font-family='"Liberation Sans","Noto Sans CJK SC",sans-serif' >432.6</text>
<text x="916" y="149.52" font-size="17.1" fill="#e2504c" font-weight="normal" text-anchor="end" font-family='"Liberation Sans","Noto Sans CJK SC",sans-serif' >11</text>
<text x="675.8000000000001" y="180.45" font-size="15.8" fill="#3a4960" font-weight="400" text-anchor="start" font-family='"Liberation Sans","Noto Sans CJK SC",sans-serif' stroke="#3a4960" stroke-width="0.22" textLength="35.2" lengthAdjust="spacingAndGlyphs">最高</text>
<text x="825" y="181.12" font-size="17.1" fill="#e2504c" font-weight="normal" text-anchor="end" font-family='"Liberation Sans","Noto Sans CJK SC",sans-serif' >435.5</text>
<text x="836.3000000000001" y="180.45" font-size="15.8" fill="#3a4960" font-weight="400" text-anchor="start" font-family='"Liberation Sans","Noto Sans CJK SC",sans-serif' stroke="#3a4960" stroke-width="0.22" textLength="35.2" lengthAdjust="spacingAndGlyphs">开盘</text>
<text x="980.6" y="181.12" font-size="17.1" fill="#e2504c" font-weight="normal" text-anchor="end" font-family='"Liberation Sans","Noto Sans CJK SC",sans-serif' >433.9</text>
<text x="675.8000000000001" y="211.75" font-size="15.8" fill="#3a4960" font-weight="400" text-anchor="start" font-family='"Liberation Sans","Noto Sans CJK SC",sans-serif' stroke="#3a4960" stroke-width="0.22" textLength="35.2" lengthAdjust="spacingAndGlyphs">最低</text>
<text x="825" y="212.42" font-size="17.1" fill="#e2504c" font-weight="normal" text-anchor="end" font-family='"Liberation Sans","Noto Sans CJK SC",sans-serif' >429.3</text>
<text x="836.3000000000001" y="211.75" font-size="15.8" fill="#3a4960" font-weight="400" text-anchor="start" font-family='"Liberation Sans","Noto Sans CJK SC",sans-serif' stroke="#3a4960" stroke-width="0.22" textLength="52.8" lengthAdjust="spacingAndGlyphs">昨结算</text>
<text x="980.6" y="212.42" font-size="17.1" fill="#2b3342" font-weight="normal" text-anchor="end" font-family='"Liberation Sans","Noto Sans CJK SC",sans-serif' >429.0</text>
<text x="675.8000000000001" y="242.95" font-size="15.8" fill="#3a4960" font-weight="400" text-anchor="start" font-family='"Liberation Sans","Noto Sans CJK SC",sans-serif' stroke="#3a4960" stroke-width="0.22" textLength="35.2" lengthAdjust="spacingAndGlyphs">均价</text>
<text x="820.6" y="243.62" font-size="17.1" fill="#2b3342" font-weight="normal" text-anchor="end" font-family='"Liberation Sans","Noto Sans CJK SC",sans-serif' >-</text>
<text x="836.3000000000001" y="242.95" font-size="15.8" fill="#3a4960" font-weight="400" text-anchor="start" font-family='"Liberation Sans","Noto Sans CJK SC",sans-serif' stroke="#3a4960" stroke-width="0.22" textLength="35.2" lengthAdjust="spacingAndGlyphs">昨收</text>
<text x="980.6" y="243.62" font-size="17.1" fill="#2b3342" font-weight="normal" text-anchor="end" font-family='"Liberation Sans","Noto Sans CJK SC",sans-serif' >429.5</text>
<text x="675.8000000000001" y="273.75" font-size="15.8" fill="#3a4960" font-weight="400" text-anchor="start" font-family='"Liberation Sans","Noto Sans CJK SC",sans-serif' stroke="#3a4960" stroke-width="0.22" textLength="35.2" lengthAdjust="spacingAndGlyphs">振幅</text>
<text x="825" y="274.42" font-size="17.1" fill="#2b3342" font-weight="normal" text-anchor="end" font-family='"Liberation Sans","Noto Sans CJK SC",sans-serif' >1.45%</text>
<text x="675.8000000000001" y="305.05" font-size="15.8" fill="#3a4960" font-weight="400" text-anchor="start" font-family='"Liberation Sans","Noto Sans CJK SC",sans-serif' stroke="#3a4960" stroke-width="0.22" textLength="35.2" lengthAdjust="spacingAndGlyphs">现手</text>
<text x="825" y="305.72" font-size="17.1" fill="#2b3342" font-weight="normal" text-anchor="end" font-family='"Liberation Sans","Noto Sans CJK SC",sans-serif' >1</text>
<text x="836.3000000000001" y="305.05" font-size="15.8" fill="#3a4960" font-weight="400" text-anchor="start" font-family='"Liberation Sans","Noto Sans CJK SC",sans-serif' stroke="#3a4960" stroke-width="0.22" textLength="35.2" lengthAdjust="spacingAndGlyphs">总手</text>
<text x="980.6" y="305.92" font-size="17.1" fill="#2b3342" font-weight="normal" text-anchor="end" font-family='"Liberation Sans","Noto Sans CJK SC",sans-serif' dx="-17.4">11.15</text>
<text x="980.9000000000001" y="305.05" font-size="15.8" fill="#2b3342" font-weight="400" text-anchor="end" font-family='"Liberation Sans","Noto Sans CJK SC",sans-serif' stroke="#2b3342" stroke-width="0.22" textLength="17.6" lengthAdjust="spacingAndGlyphs">万</text>
<text x="675.8000000000001" y="336.65" font-size="15.8" fill="#3a4960" font-weight="400" text-anchor="start" font-family='"Liberation Sans","Noto Sans CJK SC",sans-serif' stroke="#3a4960" stroke-width="0.22" textLength="35.2" lengthAdjust="spacingAndGlyphs">总持</text>
<text x="825" y="337.32" font-size="17.1" fill="#2b3342" font-weight="normal" text-anchor="end" font-family='"Liberation Sans","Noto Sans CJK SC",sans-serif' >32845</text>
<text x="836.3000000000001" y="336.65" font-size="15.8" fill="#3a4960" font-weight="400" text-anchor="start" font-family='"Liberation Sans","Noto Sans CJK SC",sans-serif' stroke="#3a4960" stroke-width="0.22" textLength="52.8" lengthAdjust="spacingAndGlyphs">持仓差</text>
<text x="980.6" y="337.32" font-size="17.1" fill="#2b3342" font-weight="normal" text-anchor="end" font-family='"Liberation Sans","Noto Sans CJK SC",sans-serif' >32845</text>
<text x="675.8000000000001" y="367.95" font-size="15.8" fill="#3a4960" font-weight="400" text-anchor="start" font-family='"Liberation Sans","Noto Sans CJK SC",sans-serif' stroke="#3a4960" stroke-width="0.22" textLength="35.2" lengthAdjust="spacingAndGlyphs">委比</text>
<text x="825" y="368.62" font-size="17.1" fill="#e2504c" font-weight="normal" text-anchor="end" font-family='"Liberation Sans","Noto Sans CJK SC",sans-serif' >4.76%</text>
<text x="836.3000000000001" y="367.95" font-size="15.8" fill="#3a4960" font-weight="400" text-anchor="start" font-family='"Liberation Sans","Noto Sans CJK SC",sans-serif' stroke="#3a4960" stroke-width="0.22" textLength="35.2" lengthAdjust="spacingAndGlyphs">委差</text>
<text x="980.6" y="368.62" font-size="17.1" fill="#e2504c" font-weight="normal" text-anchor="end" font-family='"Liberation Sans","Noto Sans CJK SC",sans-serif' >1</text>
<text x="675.8000000000001" y="399.25" font-size="15.8" fill="#3a4960" font-weight="400" text-anchor="start" font-family='"Liberation Sans","Noto Sans CJK SC",sans-serif' stroke="#3a4960" stroke-width="0.22" textLength="35.2" lengthAdjust="spacingAndGlyphs">外盘</text>
<text x="825" y="399.92" font-size="17.1" fill="#e2504c" font-weight="normal" text-anchor="end" font-family='"Liberation Sans","Noto Sans CJK SC",sans-serif' >17833</text>
<text x="836.3000000000001" y="399.25" font-size="15.8" fill="#3a4960" font-weight="400" text-anchor="start" font-family='"Liberation Sans","Noto Sans CJK SC",sans-serif' stroke="#3a4960" stroke-width="0.22" textLength="35.2" lengthAdjust="spacingAndGlyphs">内盘</text>
<text x="980.6" y="399.92" font-size="17.1" fill="#22a03a" font-weight="normal" text-anchor="end" font-family='"Liberation Sans","Noto Sans CJK SC",sans-serif' >17412</text>
<rect x="676" y="411.3" width="161" height="23.2" fill="#189b22" stroke="none" stroke-width="1" />
<rect x="837" y="411.3" width="152.6" height="23.2" fill="#dc4038" stroke="none" stroke-width="1" />
<text x="683" y="429.42" font-size="17.1" fill="#fff" font-weight="normal" text-anchor="start" font-family='"Liberation Sans","Noto Sans CJK SC",sans-serif' >51%</text>
<text x="982.5" y="429.42" font-size="17.1" fill="#fff" font-weight="normal" text-anchor="end" font-family='"Liberation Sans","Noto Sans CJK SC",sans-serif' >49%</text>
<text x="675.8000000000001" y="461.65" font-size="15.8" fill="#3a4960" font-weight="400" text-anchor="start" font-family='"Liberation Sans","Noto Sans CJK SC",sans-serif' stroke="#3a4960" stroke-width="0.22" textLength="35.2" lengthAdjust="spacingAndGlyphs">涨停</text>
<text x="825" y="462.32" font-size="17.1" fill="#e2504c" font-weight="normal" text-anchor="end" font-family='"Liberation Sans","Noto Sans CJK SC",sans-serif' >463.3</text>
<text x="831.3000000000001" y="461.65" font-size="15.8" fill="#3a4960" font-weight="400" text-anchor="start" font-family='"Liberation Sans","Noto Sans CJK SC",sans-serif' stroke="#3a4960" stroke-width="0.22" textLength="35.2" lengthAdjust="spacingAndGlyphs">跌停</text>
<text x="980.6" y="462.32" font-size="17.1" fill="#22a03a" font-weight="normal" text-anchor="end" font-family='"Liberation Sans","Noto Sans CJK SC",sans-serif' >394.7</text>
<text x="680.8000000000001" y="497.05" font-size="15.8" fill="#56647c" font-weight="400" text-anchor="start" font-family='"Liberation Sans","Noto Sans CJK SC",sans-serif' stroke="#56647c" stroke-width="0.22" textLength="35.2" lengthAdjust="spacingAndGlyphs">时间</text>
<text x="744.5" y="497.05" font-size="15.8" fill="#56647c" font-weight="400" text-anchor="start" font-family='"Liberation Sans","Noto Sans CJK SC",sans-serif' stroke="#56647c" stroke-width="0.22" textLength="35.2" lengthAdjust="spacingAndGlyphs">价格</text>
<text x="805.8000000000001" y="497.05" font-size="15.8" fill="#56647c" font-weight="400" text-anchor="start" font-family='"Liberation Sans","Noto Sans CJK SC",sans-serif' stroke="#56647c" stroke-width="0.22" textLength="35.2" lengthAdjust="spacingAndGlyphs">现手</text>
<text x="856.8000000000001" y="497.05" font-size="15.8" fill="#56647c" font-weight="400" text-anchor="start" font-family='"Liberation Sans","Noto Sans CJK SC",sans-serif' stroke="#56647c" stroke-width="0.22" textLength="35.2" lengthAdjust="spacingAndGlyphs">仓差</text>
<text x="985.3000000000001" y="497.05" font-size="15.8" fill="#56647c" font-weight="400" text-anchor="end" font-family='"Liberation Sans","Noto Sans CJK SC",sans-serif' stroke="#56647c" stroke-width="0.22" textLength="35.2" lengthAdjust="spacingAndGlyphs">开平</text>
<line x1="676" y1="543.3" x2="990.5" y2="543.3" stroke="#eceff4" stroke-width="1.2" />
<text x="677" y="534.32" font-size="17.1" fill="#f7b752" font-weight="normal" text-anchor="start" font-family='"Liberation Sans","Noto Sans CJK SC",sans-serif' >14:59</text>
<text x="737.2" y="534.32" font-size="17.1" fill="#e2504c" font-weight="normal" text-anchor="start" font-family='"Liberation Sans","Noto Sans CJK SC",sans-serif' >432.7</text>
<text x="815" y="534.32" font-size="17.1" fill="#e2504c" font-weight="normal" text-anchor="start" font-family='"Liberation Sans","Noto Sans CJK SC",sans-serif' >1</text>
<path d="M833.5 520.4 L839.6 527.2 L835.6 527.2 L835.6 534.4 L831.4 534.4 L831.4 527.2 L827.4 527.2 Z" fill="#e0322c"/>
<text x="862" y="534.32" font-size="17.1" fill="#e2504c" font-weight="normal" text-anchor="start" font-family='"Liberation Sans","Noto Sans CJK SC",sans-serif' >+1</text>
<text x="984.9000000000001" y="534.45" font-size="15.8" fill="#2c3442" font-weight="400" text-anchor="end" font-family='"Liberation Sans","Noto Sans CJK SC",sans-serif' stroke="#2c3442" stroke-width="0.22" textLength="52.8" lengthAdjust="spacingAndGlyphs">双开仓</text>
</svg></body></html>
